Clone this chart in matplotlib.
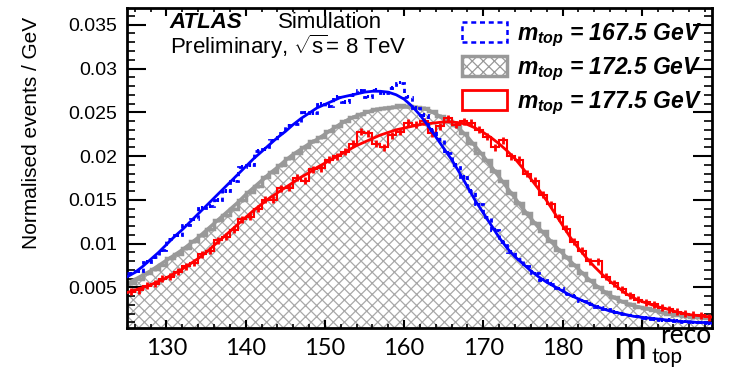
import numpy as np
import matplotlib
matplotlib.use("Agg")
import matplotlib.pyplot as plt
from matplotlib.patches import Patch
from matplotlib.ticker import MultipleLocator, FuncFormatter

# ---------------------------------------------------------------------------
# Data: 1 GeV bins from 125 to 199 GeV
# ---------------------------------------------------------------------------
bin_edges = np.arange(125, 200, 1)      # 75 edges -> 74 bins
fit_x = np.arange(125, 200, 1)          # fit curves sampled every GeV

hist_1675 = [0.0066, 0.0069, 0.0079, 0.0085, 0.0093, 0.0105, 0.0110, 0.0121, 0.0128, 0.0141,
             0.0143, 0.0150, 0.0160, 0.0172, 0.0188, 0.0190, 0.0206, 0.0208, 0.0218, 0.0226,
             0.0235, 0.0237, 0.0250, 0.0249, 0.0260, 0.0257, 0.0268, 0.0262, 0.0270, 0.0275,
             0.0268, 0.0276, 0.0272, 0.0278, 0.0284, 0.0268, 0.0255, 0.0247, 0.0230, 0.0219,
             0.0204, 0.0190, 0.0176, 0.0160, 0.0145, 0.0130, 0.0116, 0.0102, 0.0091, 0.0082,
             0.0074, 0.0066, 0.0059, 0.0054, 0.0049, 0.0043, 0.0040, 0.0035, 0.0031, 0.0028,
             0.0025, 0.0022, 0.0020, 0.0018, 0.0017, 0.0015, 0.0014, 0.0013, 0.0013, 0.0012,
             0.0011, 0.0010, 0.0010, 0.0009]
fit_1675 = [0.0062, 0.0067, 0.0074, 0.0082, 0.0090, 0.0099, 0.0108, 0.0116, 0.0125, 0.0134,
            0.0143, 0.0152, 0.0161, 0.0170, 0.0179, 0.0188, 0.0197, 0.0205, 0.0213, 0.0221,
            0.0228, 0.0236, 0.0243, 0.0249, 0.0255, 0.0259, 0.0263, 0.0267, 0.0269, 0.0271,
            0.0273, 0.0274, 0.0274, 0.0273, 0.0270, 0.0265, 0.0257, 0.0247, 0.0235, 0.0222,
            0.0209, 0.0196, 0.0181, 0.0165, 0.0149, 0.0135, 0.0121, 0.0107, 0.0095, 0.0085,
            0.0077, 0.0069, 0.0062, 0.0056, 0.0051, 0.0046, 0.0041, 0.0037, 0.0033, 0.0029,
            0.0026, 0.0023, 0.0021, 0.0019, 0.0017, 0.0016, 0.0015, 0.0014, 0.0013, 0.0012,
            0.0011, 0.0011, 0.0010, 0.0010, 0.0009]

hist_1725 = [0.0055, 0.0060, 0.0066, 0.0071, 0.0076, 0.0084, 0.0088, 0.0095, 0.0103, 0.0110,
             0.0117, 0.0127, 0.0133, 0.0140, 0.0150, 0.0159, 0.0166, 0.0176, 0.0182, 0.0190,
             0.0198, 0.0204, 0.0210, 0.0217, 0.0222, 0.0229, 0.0234, 0.0240, 0.0245, 0.0248,
             0.0251, 0.0254, 0.0255, 0.0256, 0.0258, 0.0257, 0.0256, 0.0255, 0.0251, 0.0246,
             0.0240, 0.0235, 0.0226, 0.0215, 0.0204, 0.0195, 0.0183, 0.0171, 0.0158, 0.0147,
             0.0135, 0.0124, 0.0114, 0.0103, 0.0093, 0.0085, 0.0076, 0.0067, 0.0058, 0.0051,
             0.0045, 0.0039, 0.0034, 0.0031, 0.0028, 0.0026, 0.0024, 0.0022, 0.0020, 0.0019,
             0.0017, 0.0016, 0.0016, 0.0015]
fit_1725 = [0.0054, 0.0059, 0.0064, 0.0069, 0.0075, 0.0081, 0.0087, 0.0093, 0.0100, 0.0107,
            0.0115, 0.0123, 0.0131, 0.0139, 0.0147, 0.0156, 0.0164, 0.0172, 0.0180, 0.0187,
            0.0195, 0.0202, 0.0208, 0.0214, 0.0219, 0.0225, 0.0231, 0.0237, 0.0242, 0.0246,
            0.0249, 0.0252, 0.0254, 0.0255, 0.0256, 0.0256, 0.0256, 0.0255, 0.0253, 0.0248,
            0.0243, 0.0237, 0.0231, 0.0222, 0.0211, 0.0200, 0.0188, 0.0176, 0.0164, 0.0152,
            0.0140, 0.0129, 0.0118, 0.0108, 0.0098, 0.0089, 0.0080, 0.0071, 0.0062, 0.0054,
            0.0047, 0.0041, 0.0036, 0.0032, 0.0029, 0.0027, 0.0025, 0.0023, 0.0021, 0.0019,
            0.0018, 0.0017, 0.0016, 0.0015, 0.0015]

hist_1775 = [0.0045, 0.0047, 0.0052, 0.0054, 0.0060, 0.0062, 0.0068, 0.0074, 0.0078, 0.0088,
             0.0092, 0.0104, 0.0108, 0.0116, 0.0128, 0.0131, 0.0140, 0.0150, 0.0150, 0.0163,
             0.0164, 0.0175, 0.0172, 0.0185, 0.0186, 0.0196, 0.0200, 0.0205, 0.0214, 0.0228,
             0.0226, 0.0214, 0.0210, 0.0224, 0.0228, 0.0238, 0.0236, 0.0240, 0.0226, 0.0234,
             0.0243, 0.0236, 0.0240, 0.0238, 0.0230, 0.0222, 0.0210, 0.0218, 0.0200, 0.0196,
             0.0180, 0.0172, 0.0156, 0.0145, 0.0130, 0.0117, 0.0102, 0.0092, 0.0080, 0.0080,
             0.0062, 0.0055, 0.0048, 0.0041, 0.0036, 0.0033, 0.0031, 0.0027, 0.0025, 0.0022,
             0.0020, 0.0019, 0.0018, 0.0016]
fit_1775 = [0.0044, 0.0047, 0.0050, 0.0053, 0.0057, 0.0061, 0.0066, 0.0071, 0.0077, 0.0083,
            0.0090, 0.0098, 0.0106, 0.0114, 0.0122, 0.0130, 0.0138, 0.0145, 0.0152, 0.0158,
            0.0164, 0.0170, 0.0176, 0.0181, 0.0187, 0.0192, 0.0197, 0.0202, 0.0207, 0.0212,
            0.0216, 0.0220, 0.0224, 0.0227, 0.0230, 0.0232, 0.0234, 0.0236, 0.0237, 0.0238,
            0.0239, 0.0239, 0.0238, 0.0236, 0.0232, 0.0227, 0.0221, 0.0214, 0.0206, 0.0197,
            0.0186, 0.0174, 0.0162, 0.0149, 0.0135, 0.0121, 0.0107, 0.0095, 0.0084, 0.0074,
            0.0065, 0.0057, 0.0050, 0.0043, 0.0038, 0.0034, 0.0031, 0.0028, 0.0026, 0.0023,
            0.0021, 0.0019, 0.0018, 0.0017, 0.0016]

# statistical uncertainty per bin (roughly constant in the picture)
err_1675 = 0.0002
err_1725 = 0.0002
err_1775 = 0.0004

labels = [r"$m_{top}$ = 167.5 GeV", r"$m_{top}$ = 172.5 GeV", r"$m_{top}$ = 177.5 GeV"]
x_ticklabels = {130: "130", 140: "140", 150: "150", 160: "160", 170: "170", 180: "180"}

# ---------------------------------------------------------------------------
# Style
# ---------------------------------------------------------------------------
BLUE, GREY, RED = "#0000ff", "#999999", "#ff0000"
HATCH_GREY = "#a8a8a8"

plt.rcParams["font.family"] = ["Liberation Sans", "DejaVu Sans"]
plt.rcParams["mathtext.fontset"] = "custom"
plt.rcParams["mathtext.rm"] = "Liberation Sans"
plt.rcParams["mathtext.it"] = "Liberation Sans:italic:bold"
plt.rcParams["mathtext.bf"] = "Liberation Sans:bold"
plt.rcParams["hatch.linewidth"] = 0.9

fig = plt.figure(figsize=(7.29, 3.67), dpi=100)
ax = fig.add_axes([0.174, 0.106, 0.803, 0.872])

centers = 0.5 * (bin_edges[:-1] + bin_edges[1:])

# 172.5 GeV: hatched filled histogram
ax.stairs(hist_1725, bin_edges, baseline=0, fill=True, hatch="xxx",
          facecolor="none", edgecolor=HATCH_GREY, linewidth=0, zorder=1)
ax.stairs(hist_1725, bin_edges, baseline=None, color=GREY, linewidth=2.5, zorder=2)
ax.errorbar(centers, hist_1725, yerr=err_1725, fmt="none", ecolor=GREY,
            elinewidth=2, zorder=2)
ax.plot(fit_x, fit_1725, color=GREY, linewidth=2.5, zorder=2)

# 177.5 GeV
ax.stairs(hist_1775, bin_edges, baseline=None, color=RED, linewidth=1.5, zorder=3)
ax.errorbar(centers, hist_1775, yerr=err_1775, fmt="none", ecolor=RED,
            elinewidth=2, zorder=3)
ax.plot(fit_x, fit_1775, color=RED, linewidth=2, zorder=3)

# 167.5 GeV
ax.stairs(hist_1675, bin_edges, baseline=None, color=BLUE, linewidth=2,
          linestyle=(0, (1.5, 1.5)), zorder=4)
ax.errorbar(centers, hist_1675, yerr=err_1675, fmt="none", ecolor=BLUE,
            elinewidth=1.5, zorder=4)
ax.plot(fit_x, fit_1675, color=BLUE, linewidth=2, zorder=4)

# ---------------------------------------------------------------------------
# Axes
# ---------------------------------------------------------------------------
ax.set_xlim(125, 198.9)
ax.set_ylim(0.00036, 0.0369)
ax.xaxis.set_major_locator(MultipleLocator(10))
ax.xaxis.set_minor_locator(MultipleLocator(2))
ax.xaxis.set_major_formatter(FuncFormatter(lambda v, _: x_ticklabels.get(int(round(v)), "")))
ax.yaxis.set_major_locator(MultipleLocator(0.005))
ax.yaxis.set_minor_locator(MultipleLocator(0.001))
ax.yaxis.set_major_formatter(FuncFormatter(lambda v, _: f"{v:g}"))

for s in ax.spines.values():
    s.set_linewidth(2)
ax.tick_params(which="both", direction="in", top=True, right=True, color="black")
ax.tick_params(axis="x", which="major", length=6, width=1.5, labelsize=17, pad=7)
ax.tick_params(axis="x", which="minor", length=3, width=1.2)
ax.tick_params(axis="y", which="major", length=14, width=1.5, labelsize=14, pad=7)
ax.tick_params(axis="y", which="minor", length=6, width=1.2)
plt.setp(ax.get_xticklabels(), family="Lato")

fig.text(0.043, 0.638, "Normalised events / GeV", rotation=90, ha="center",
         va="center", fontsize=15, family=["Liberation Sans Narrow", "Liberation Sans"])

# axis title m_top^reco at the lower right
fig.text(0.841, 0.021, "m", fontsize=29, family="Lato", ha="left", va="baseline")
fig.text(0.894, 0.012, "top", fontsize=15, family="Lato", ha="left", va="baseline")
fig.text(0.905, 0.066, "reco", fontsize=19, family="Lato", ha="left", va="baseline")

# ATLAS label
ax.text(0.0735, 0.938, "ATLAS", transform=ax.transAxes, fontsize=16,
        fontweight="bold", fontstyle="italic", va="baseline")
ax.text(0.258, 0.938, "Simulation", transform=ax.transAxes, fontsize=16, va="baseline")
ax.text(0.0735, 0.855, r"Preliminary, $\sqrt{\mathrm{s}}$= 8 TeV",
        transform=ax.transAxes, fontsize=16, va="baseline")

handles = [
    Patch(facecolor="white", edgecolor=BLUE, linestyle=(0, (2, 1.5)), linewidth=1.8),
    Patch(facecolor="white", edgecolor=GREY, hatch="xxx", linewidth=2.5),
    Patch(facecolor="white", edgecolor=RED, linewidth=2),
]
ax.legend(handles, labels, loc="upper left", bbox_to_anchor=(0.573, 0.958),
          frameon=False, prop={"weight": "bold", "style": "italic", "size": 16.5},
          handlelength=1.95, handleheight=1.0, labelspacing=0.28,
          handletextpad=0.45, borderaxespad=0, borderpad=0)

fig.savefig("out.png", dpi=100)
